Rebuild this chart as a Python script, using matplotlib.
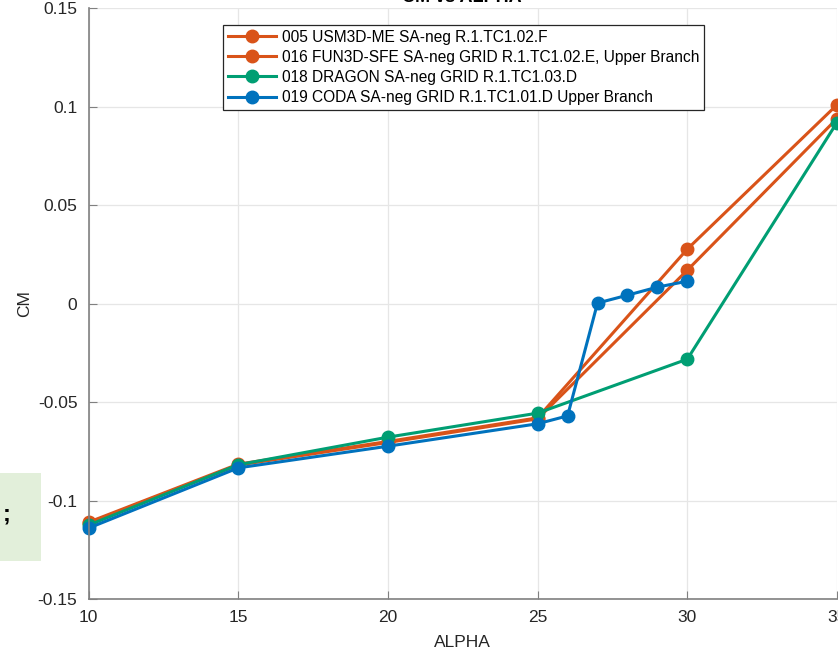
import numpy as np
import matplotlib
matplotlib.use("Agg")
import matplotlib.pyplot as plt
from matplotlib.patches import Rectangle

plt.rcParams['font.family'] = ['Liberation Sans', 'DejaVu Sans']

# data
alpha_usm3d = [10, 15, 20, 25, 30, 35]
cm_usm3d = [-0.111, -0.0815, -0.0700, -0.0580, 0.0277, 0.1010]

alpha_fun3d = [10, 15, 20, 25, 30, 35]
cm_fun3d = [-0.1115, -0.0820, -0.0705, -0.0585, 0.0170, 0.0940]

alpha_dragon = [10, 15, 20, 25, 30, 35]
cm_dragon = [-0.1125, -0.0818, -0.0678, -0.0556, -0.0282, 0.0920]

alpha_coda = [10, 15, 20, 25, 26, 27, 28, 29, 30]
cm_coda = [-0.1140, -0.0834, -0.0724, -0.0610, -0.0570, 0.0003, 0.0043, 0.0084, 0.0114]

labels = ['005 USM3D-ME SA-neg R.1.TC1.02.F',
          '016 FUN3D-SFE SA-neg GRID R.1.TC1.02.E, Upper Branch',
          '018 DRAGON SA-neg GRID R.1.TC1.03.D',
          '019 CODA SA-neg GRID R.1.TC1.01.D Upper Branch']
colors = ['#D95319', '#D95319', '#009E73', '#0072BD']

xticks = [10, 15, 20, 25, 30, 35]
yticks = [-0.15, -0.1, -0.05, 0, 0.05, 0.1, 0.15]
yticklabels = ['-0.15', '-0.1', '-0.05', '0', '0.05', '0.1', '0.15']

W, H = 838, 663
fig = plt.figure(figsize=(W/100, H/100), dpi=100)
ax = fig.add_axes([88.6/W, (H-599)/H, (837-88.6)/W, (599-8.3)/H])

series = [(alpha_usm3d, cm_usm3d), (alpha_fun3d, cm_fun3d),
          (alpha_dragon, cm_dragon), (alpha_coda, cm_coda)]
for (xs, ys), c, lab in zip(series, colors, labels):
    ax.plot(xs, ys, '-o', color=c, lw=2.2, ms=9, label=lab, clip_on=False)

ax.set_xlim(10, 35)
ax.set_ylim(-0.15, 0.15)
ax.set_xticks(xticks)
ax.set_xticklabels([str(t) for t in xticks])
ax.set_yticks(yticks)
ax.set_yticklabels(yticklabels)
ax.grid(True, color='#e6e6e6', lw=0.9)
ax.set_axisbelow(True)
for s in ['top', 'right']:
    ax.spines[s].set_visible(False)
for s in ['left', 'bottom']:
    ax.spines[s].set_color('#808080')
    ax.spines[s].set_linewidth(1.2)
ax.tick_params(direction='in', length=6, color='#808080', labelsize=12.5,
               labelcolor='#262626', pad=8)
ax.set_xlabel('ALPHA', fontsize=12.5, color='#262626', labelpad=7)
ax.set_ylabel('CM', fontsize=12.5, color='#262626', labelpad=4)

leg = ax.legend(loc='upper left', bbox_to_anchor=(223/W, 1-25/H),
                bbox_transform=fig.transFigure, borderaxespad=0,
                fontsize=11.2, handlelength=3.1, labelspacing=0.33,
                handletextpad=0.4, borderpad=0.3, fancybox=False,
                framealpha=1, edgecolor='#262626')
leg.get_frame().set_linewidth(0.9)

# title cut off at the top of the picture
fig.text(462/W, 1-6/H, 'CM vs ALPHA', ha='center', va='bottom',
         fontsize=13, fontweight='bold', color='black')

# light green box on the left edge
fig.patches.append(Rectangle((0, 1-561/H), 41/W, 88/H, transform=fig.transFigure,
                             facecolor='#e2efda', edgecolor='none', zorder=-1))
fig.text(3/W, 1-514/H, ';', ha='left', va='center', fontsize=17,
         fontweight='bold', color='black')

fig.savefig('out.png', dpi=100)
